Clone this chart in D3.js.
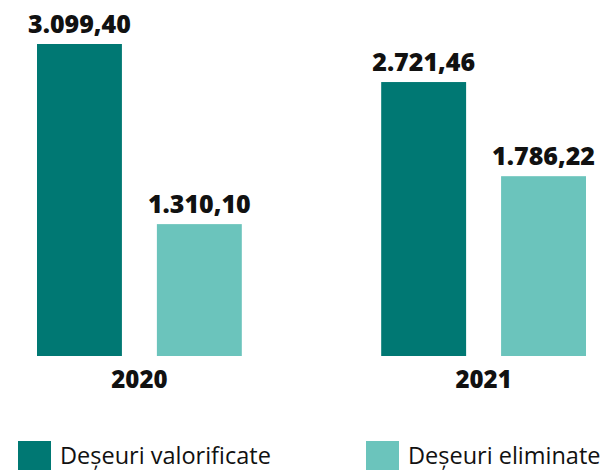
<!DOCTYPE html>
<html>
<head>
<meta charset="utf-8">
<script src="https://cdn.jsdelivr.net/npm/d3@7"></script>
<style>
  html, body { margin: 0; padding: 0; background: #fff; }
  svg { display: block; }
</style>
</head>
<body>
<svg id="chart" width="605" height="470"></svg>
<script>
const years = ["2020", "2021"];
const seriesNames = ["Deșeuri valorificate", "Deșeuri eliminate"];
const valorificate = [3099.40, 2721.46];
const eliminate = [1310.10, 1786.22];
const valueLabels = [["3.099,40", "1.310,10"], ["2.721,46", "1.786,22"]];
const colors = ["#007873", "#6bc4bc"];

const svg = d3.select("#chart");
const font = "'Open Sans', 'Noto Sans', sans-serif";

const x0 = d3.scaleBand().domain(years).range([37, 586]).paddingInner(0.405).paddingOuter(0);
const x1 = d3.scaleBand().domain(seriesNames).range([0, x0.bandwidth()]).paddingInner(0.2917).paddingOuter(0);
const y = d3.scaleLinear().domain([0, 3099.40]).range([356, 44]);

const data = years.map((yr, i) => ({
  year: yr,
  values: [
    { name: seriesNames[0], value: valorificate[i], label: valueLabels[i][0], color: colors[0] },
    { name: seriesNames[1], value: eliminate[i], label: valueLabels[i][1], color: colors[1] }
  ]
}));

const groups = svg.selectAll("g.year").data(data).join("g")
  .attr("class", "year")
  .attr("transform", d => `translate(${x0(d.year)},0)`);

groups.selectAll("rect").data(d => d.values).join("rect")
  .attr("x", d => x1(d.name))
  .attr("width", x1.bandwidth())
  .attr("y", d => y(d.value))
  .attr("height", d => y(0) - y(d.value))
  .attr("fill", d => d.color);

groups.selectAll("text.val").data(d => d.values).join("text")
  .attr("class", "val")
  .attr("x", d => x1(d.name) + x1.bandwidth() / 2)
  .attr("y", d => y(d.value) - 11)
  .attr("text-anchor", "middle")
  .style("font-family", font)
  .style("font-weight", "800")
  .style("font-size", "25px")
  .attr("fill", "#111")
  .text(d => d.label);

// x axis labels
const xAxis = d3.axisBottom(x0).tickSize(0).tickPadding(0);
const gx = svg.append("g").attr("transform", `translate(0,${y(0)})`).call(xAxis);
gx.select(".domain").remove();
gx.selectAll("text")
  .attr("dy", null)
  .attr("y", 32)
  .style("font-family", font)
  .style("font-weight", "800")
  .style("font-size", "24px")
  .attr("fill", "#111");

// legend
const legendX = [18, 366];
const legend = svg.selectAll("g.legend").data(seriesNames).join("g")
  .attr("class", "legend")
  .attr("transform", (d, i) => `translate(${legendX[i]},441)`);
legend.append("rect").attr("width", 33).attr("height", 33).attr("fill", (d, i) => colors[i]);
legend.append("text")
  .attr("x", 42)
  .attr("y", 23)
  .style("font-family", font)
  .style("font-size", "23.5px")
  .attr("fill", "#111")
  .text(d => d);
</script>
</body>
</html>
